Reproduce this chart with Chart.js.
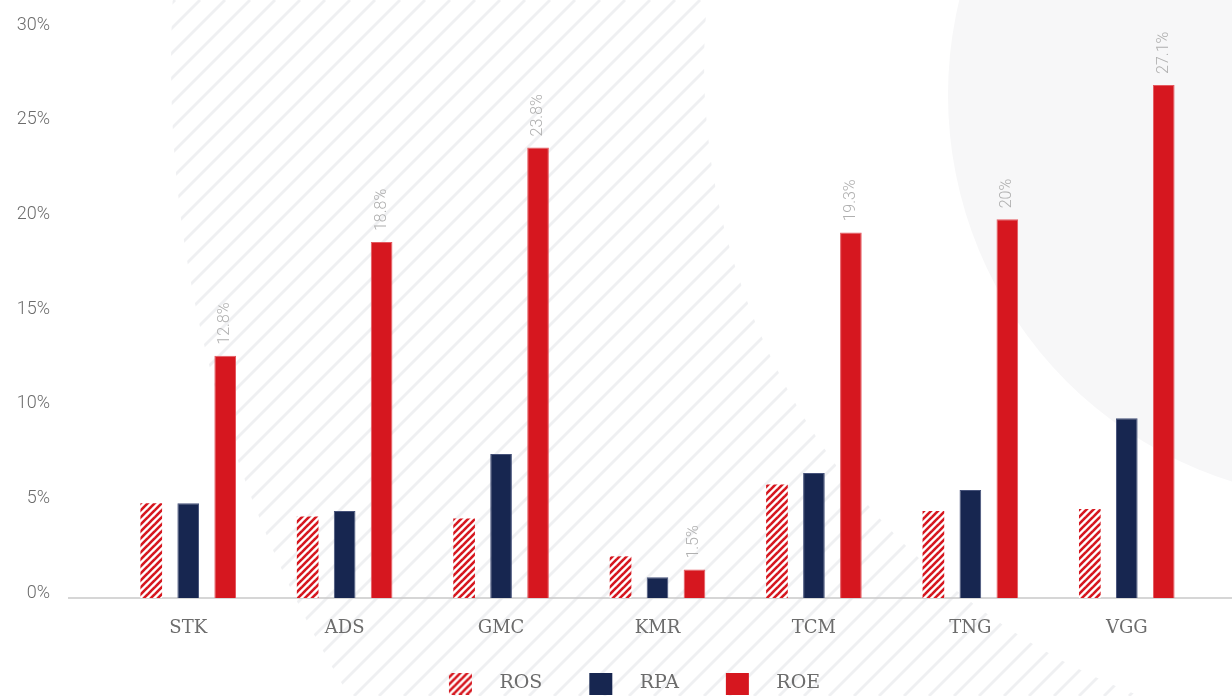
<!DOCTYPE html>
<html>
<head>
<meta charset="utf-8">
<script src="https://cdn.jsdelivr.net/npm/chart.js@4.4.1/dist/chart.umd.min.js"></script>
<style>
  html, body { margin: 0; padding: 0; background: #fff; }
  #wrap { width: 1232px; height: 696px; position: relative; }
</style>
</head>
<body>
<div id="wrap"><canvas id="chart"></canvas></div>
<script>
// Company codes and ratios (in %)
const categories = ['STK', 'ADS', 'GMC', 'KMR', 'TCM', 'TNG', 'VGG'];
const seriesNames = ['ROS', 'RPA', 'ROE'];
const rosValues = [5.0, 4.3, 4.2, 2.2, 6.0, 4.6, 4.7];
const rpaValues = [5.0, 4.6, 7.6, 1.1, 6.6, 5.7, 9.5];
const roeValues = [12.8, 18.8, 23.8, 1.5, 19.3, 20, 27.1];
const yTickValues = [0, 5, 10, 15, 20, 25, 30];

const RED = '#d6171f';
const NAVY = '#172650';
const SERIF = '"DejaVu Serif", serif';
const SANS = 'Roboto, "Noto Sans", sans-serif';

// Red diagonal stripes on white, used for ROS
function hatchTile() {
  const t = document.createElement('canvas');
  t.width = 7; t.height = 7;
  const g = t.getContext('2d');
  g.fillStyle = '#ffffff';
  g.fillRect(0, 0, 7, 7);
  g.strokeStyle = RED;
  g.lineWidth = 2.6;
  for (const k of [0, 7, 14]) {
    g.beginPath();
    g.moveTo(k + 1, -1);
    g.lineTo(k - 8, 8);
    g.stroke();
  }
  return t;
}
const tile = hatchTile();
const probe = document.createElement('canvas').getContext('2d');
const rosPattern = probe.createPattern(tile, 'repeat');

// Legend markers: a 23x22 swatch with spacing around it
function legendMark(kind) {
  const c = document.createElement('canvas');
  c.width = 78; c.height = 22;
  const g = c.getContext('2d');
  g.fillStyle = kind === 'hatch' ? g.createPattern(tile, 'repeat') : kind;
  g.fillRect(37, 0, 23, 22);
  return c;
}
const legendMarks = [legendMark('hatch'), legendMark(NAVY), legendMark(RED)];

// Backdrop: pale disc on the right and a striped ring behind the bars
const backdrop = {
  id: 'backdrop',
  beforeDraw(chart) {
    const { ctx, width, height } = chart;
    ctx.save();
    ctx.fillStyle = '#ffffff';
    ctx.fillRect(0, 0, width, height);
    ctx.fillStyle = '#f7f7f8';
    ctx.beginPath();
    ctx.arc(1353, 95, 405, 0, Math.PI * 2);
    ctx.fill();
    ctx.beginPath();
    ctx.arc(1380, 64, 1209, 0, Math.PI * 2);
    ctx.arc(1380, 64, 676, 0, Math.PI * 2, true);
    ctx.clip();
    ctx.strokeStyle = '#eff0f2';
    ctx.lineWidth = 2.8;
    for (let c = 0; c < width + height; c += 25) {
      ctx.beginPath();
      ctx.moveTo(c, 0);
      ctx.lineTo(c - height, height);
      ctx.stroke();
    }
    ctx.restore();
  }
};

// Zero line running wider than the plot area
const baseline = {
  id: 'baseline',
  beforeDatasetsDraw(chart) {
    const { ctx, chartArea, width } = chart;
    const y = chart.scales.y.getPixelForValue(0);
    ctx.save();
    ctx.strokeStyle = '#c9c9c9';
    ctx.lineWidth = 1.5;
    ctx.beginPath();
    ctx.moveTo(chartArea.left - 42, y);
    ctx.lineTo(width, y);
    ctx.stroke();
    ctx.restore();
  }
};

// Vertical value labels above the ROE bars
const roeLabels = {
  id: 'roeLabels',
  afterDatasetsDraw(chart) {
    const ctx = chart.ctx;
    const meta = chart.getDatasetMeta(2);
    const data = chart.data.datasets[2].data;
    ctx.save();
    ctx.font = '300 16px ' + SANS;
    ctx.fillStyle = '#b0b0b0';
    ctx.textAlign = 'left';
    ctx.textBaseline = 'middle';
    meta.data.forEach((bar, i) => {
      ctx.save();
      ctx.translate(bar.x, bar.y - 11);
      ctx.rotate(-Math.PI / 2);
      ctx.fillText(data[i] + '%', 0, 0);
      ctx.restore();
    });
    ctx.restore();
  }
};

new Chart(document.getElementById('chart'), {
  type: 'bar',
  data: {
    labels: categories,
    datasets: [
      { label: seriesNames[0], data: rosValues, backgroundColor: rosPattern, borderWidth: 0 },
      { label: seriesNames[1], data: rpaValues, backgroundColor: NAVY, borderColor: '#46527a', borderWidth: 1 },
      { label: seriesNames[2], data: roeValues, backgroundColor: RED, borderColor: '#e45a60', borderWidth: 1 }
    ]
  },
  options: {
    responsive: true,
    maintainAspectRatio: false,
    animation: false,
    devicePixelRatio: 1,
    layout: { padding: { top: 30, left: 0, right: 0, bottom: -7 } },
    datasets: {
      bar: { categoryPercentage: 0.709, barPercentage: 0.586 }
    },
    scales: {
      x: {
        grid: { display: false, drawTicks: false },
        border: { display: false },
        ticks: { color: '#6c6c6c', font: { family: SERIF, size: 18 }, padding: 20 },
        afterFit(scale) { scale.height = 66; }
      },
      y: {
        min: yTickValues[0],
        max: yTickValues[yTickValues.length - 1],
        grid: { display: false, drawTicks: false },
        border: { display: false },
        afterBuildTicks(scale) { scale.ticks = yTickValues.map(v => ({ value: v })); },
        ticks: {
          color: '#6c6c6c',
          font: { family: SANS, size: 18, weight: '300' },
          padding: 60,
          labelOffset: -5,
          callback: v => v + '%'
        },
        afterFit(scale) {
          scale.width = 110;
          scale.paddingTop = 0;
          scale.paddingBottom = 0;
        }
      },
      // empty right-hand axis that only reserves a margin
      yRight: {
        position: 'right',
        min: yTickValues[0],
        max: yTickValues[yTickValues.length - 1],
        grid: { display: false, drawTicks: false },
        border: { display: false },
        ticks: { display: false },
        afterFit(scale) {
          scale.width = 27;
          scale.paddingTop = 0;
          scale.paddingBottom = 0;
        }
      }
    },
    plugins: {
      tooltip: { enabled: false },
      legend: {
        position: 'bottom',
        labels: {
          usePointStyle: true,
          pointStyleWidth: 78,
          padding: 10,
          color: '#6c6c6c',
          font: { family: SERIF, size: 19 },
          generateLabels(chart) {
            return chart.data.datasets.map((ds, i) => ({
              text: ds.label,
              pointStyle: legendMarks[i],
              fillStyle: 'transparent',
              strokeStyle: 'transparent',
              lineWidth: 0,
              hidden: !chart.isDatasetVisible(i),
              datasetIndex: i,
              fontColor: '#6c6c6c'
            }));
          }
        }
      }
    }
  },
  plugins: [backdrop, baseline, roeLabels]
});
</script>
</body>
</html>
